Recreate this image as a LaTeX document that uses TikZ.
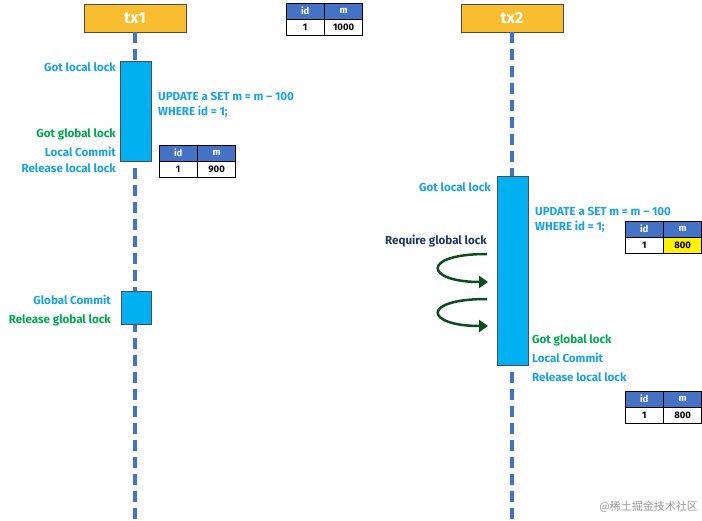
\documentclass[tikz,border=0pt]{standalone}
\usepackage{fontspec}
\setmainfont{Fira Sans}
\newfontfamily\cjk{Noto Sans CJK SC}
\usetikzlibrary{arrows.meta}
\definecolor{org}{HTML}{F9BE2F}
\definecolor{cy}{HTML}{00B0F0}
\definecolor{cyt}{HTML}{1AA3DC}
\definecolor{gr}{HTML}{00A84F}
\definecolor{nv}{HTML}{1F3864}
\definecolor{hb}{HTML}{4472C4}
\definecolor{dg}{HTML}{0B4D1F}
\begin{document}
\begin{tikzpicture}[x=1pt,y=-1pt,
 tx/.style={draw=black!70,fill=org,text=white,font=\fontsize{16}{16}\selectfont\bfseries,inner sep=0,minimum width=102pt,minimum height=28pt},
 act/.style={draw=black!70,fill=cy,inner sep=0},
 life/.style={hb,line width=4pt,dash pattern=on 11pt off 6pt},
 lb/.style={font=\fontsize{11.6}{15}\selectfont\bfseries,inner sep=0},
 hd/.style={draw=black,fill=hb,text=white,font=\fontsize{9.5}{10}\selectfont\bfseries,inner sep=0,minimum height=16pt},
 cl/.style={draw=black,fill=white,font=\fontsize{9.5}{10}\selectfont\bfseries,inner sep=0,minimum height=16pt},
 curl/.style={dg,line width=2.5pt,-{Triangle[length=9pt,width=12pt]}}]
\useasboundingbox (0,0) rectangle (702,521);
% lifelines
\coordinate (l1b) at (135,521); \coordinate (l2b) at (512,521);
\node[tx] (tx1) at (135,18) {tx1};
\node[tx] (tx2) at (512,18) {tx2};
\draw[life] (tx1.south) -- (l1b);
\draw[life] (tx2.south) -- (l2b);
% activations
\node[act,minimum width=31pt,minimum height=100pt] (a1) at (135.5,111) {};
\node[act,minimum width=30pt,minimum height=33pt] (a2) at (136,307.5) {};
\node[act,minimum width=31pt,minimum height=189pt] (a3) at (512.5,270.5) {};
% tables
\newcommand\tbl[4]{%
 \node[hd,minimum width=38pt,anchor=north west] (#1h1) at (#2) {id};
 \node[hd,minimum width=38pt,anchor=north west] (#1h2) at (#1h1.north east) {m};
 \node[cl,minimum width=38pt,anchor=north west] (#1c1) at (#1h1.south west) {1};
 \node[cl,minimum width=38pt,anchor=north west,#4] (#1c2) at (#1h2.south west) {#3};}
\tbl{ta}{286,3}{1000}{}
\tbl{tb}{159,145}{900}{}
\tbl{tc}{625,221}{800}{fill=yellow}
\tbl{td}{625,391}{800}{}
% tx1 labels
\node[lb,cyt,anchor=east] (g1) at (116,67) {Got local lock};
\node[lb,cyt,anchor=west,align=left] (u1) at (158,105) {UPDATE a SET m = m – 100\\WHERE id = 1;};
\node[lb,gr,anchor=east] (gg1) at (116,134) {Got global lock};
\node[lb,cyt,anchor=east] (lc1) at (116,152) {Local Commit};
\node[lb,cyt,anchor=east] (rl1) at (116,168) {Release local lock};
\node[lb,cyt,anchor=east] (gc) at (111,300) {Global Commit};
\node[lb,gr,anchor=east] (rg) at (111,320) {Release global lock};
% tx2 labels
\node[lb,cyt,anchor=east] (g2) at (491,187) {Got local lock};
\node[lb,cyt,anchor=west,align=left] (u2) at (535,219.5) {UPDATE a SET m = m – 100\\WHERE id = 1;};
\node[lb,nv,anchor=east] (rq) at (487,241) {Require global lock};
\node[lb,gr,anchor=west] (gg2) at (532,340) {Got global lock};
\node[lb,cyt,anchor=west] (lc2) at (532,358) {Local Commit};
\node[lb,cyt,anchor=west] (rl2) at (532,377) {Release local lock};
% curls
\coordinate (c1s) at (487,254); \coordinate (c1e) at (488,282);
\coordinate (c2s) at (487,299); \coordinate (c2e) at (488,326);
\draw[curl] (c1s) .. controls (420,254) and (425,282) .. (c1e);
\draw[curl] (c2s) .. controls (420,299) and (425,326) .. (c2e);
% watermark
\node[font=\cjk\fontsize{11}{13}\selectfont,text=black!40,anchor=east,inner sep=0] (wm) at (698,507) {@稀土掘金技术社区};
\end{tikzpicture}
\end{document}
